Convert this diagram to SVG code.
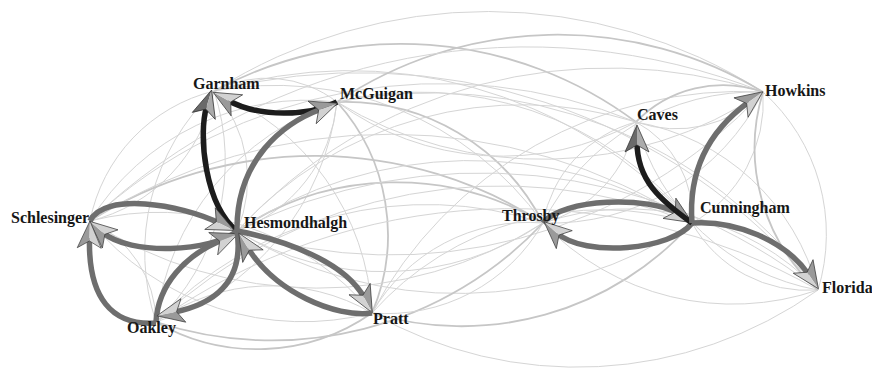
<svg xmlns="http://www.w3.org/2000/svg" width="872" height="369" viewBox="0 0 872 369">
<style>
.bg{fill:#ffffff}
.e{fill:none;stroke:#d5d5d5;stroke-width:1}
.e2{fill:none;stroke:#c6c6c6;stroke-width:1.8}
.k{fill:none;stroke:#6e6e6e;stroke-width:5.5}
.b{fill:none;stroke:#1c1c1c;stroke-width:5.5}
text{font-family:"Liberation Serif","Times New Roman",serif;font-weight:bold;font-size:16px;fill:#161616}
</style>
<defs>
<marker id="aL" markerUnits="userSpaceOnUse" markerWidth="40" markerHeight="40" viewBox="-10 -20 40 40" refX="3" refY="0" orient="auto" overflow="visible">
<path d="M20,0 L-7,-12 L0,0 Z" fill="#9a9a9a"/>
<path d="M20,0 L0,0 L-7,12 Z" fill="#d2d2d2"/>
<path d="M20,0 L-7,-12 L0,0 L-7,12 Z" fill="none" stroke="#3a3a3a" stroke-width="0.7" stroke-linejoin="round"/>
</marker>
<marker id="aD" markerUnits="userSpaceOnUse" markerWidth="40" markerHeight="40" viewBox="-10 -20 40 40" refX="3" refY="0" orient="auto" overflow="visible">
<path d="M20,0 L-7,-12 L0,0 Z" fill="#6a6a6a"/>
<path d="M20,0 L0,0 L-7,12 Z" fill="#ababab"/>
<path d="M20,0 L-7,-12 L0,0 L-7,12 Z" fill="none" stroke="#2a2a2a" stroke-width="0.7" stroke-linejoin="round"/>
</marker>
</defs>
<rect class="bg" x="0" y="0" width="872" height="369"/>
<g id="connectors-light">
<path class="e" d="M214,91 A115,115 0 0 1 337,102"/>
<path class="e" d="M90,221 A167,167 0 0 1 214,91"/>
<path class="e" d="M214,91 A167,167 0 0 1 90,221"/>
<path class="e" d="M214,91 A132,132 0 0 1 237,231"/>
<path class="e" d="M156,322 A222,222 0 0 1 214,91"/>
<path class="e" d="M214,91 A222,222 0 0 1 156,322"/>
<path class="e" d="M214,91 A253,253 0 0 1 372,313"/>
<path class="e" d="M90,221 A255,255 0 0 1 337,102"/>
<path class="e" d="M337,102 A152,152 0 0 1 237,231"/>
<path class="e" d="M156,322 A265,265 0 0 1 337,102"/>
<path class="e" d="M337,102 A265,265 0 0 1 156,322"/>
<path class="e2" d="M337,102 A199,199 0 0 1 372,313"/>
<path class="e" d="M90,221 A112,112 0 0 1 156,322"/>
<path class="e" d="M90,221 A276,276 0 0 1 372,313"/>
<path class="e" d="M372,313 A276,276 0 0 1 90,221"/>
<path class="e" d="M156,322 A201,201 0 0 1 372,313"/>
<path class="e2" d="M372,313 A201,201 0 0 1 156,322"/>
<path class="e" d="M214,91 A330,330 0 0 1 543,223"/>
<path class="e" d="M214,91 A461,461 0 0 1 692,223"/>
<path class="e" d="M214,91 A591,591 0 0 1 818,290"/>
<path class="e2" d="M214,91 A393,393 0 0 1 636,122"/>
<path class="e" d="M214,91 A511,511 0 0 1 763,92"/>
<path class="e2" d="M337,102 A222,222 0 0 1 543,223"/>
<path class="e" d="M337,102 A349,349 0 0 1 692,223"/>
<path class="e" d="M337,102 A480,480 0 0 1 818,290"/>
<path class="e2" d="M337,102 A396,396 0 0 1 763,92"/>
<path class="e" d="M636,122 A279,279 0 0 1 337,102"/>
<path class="e" d="M763,92 A396,396 0 0 1 337,102"/>
<path class="e2" d="M90,221 A421,421 0 0 1 543,223"/>
<path class="e" d="M543,223 A421,421 0 0 1 90,221"/>
<path class="e" d="M90,221 A560,560 0 0 1 692,223"/>
<path class="e" d="M90,221 A637,637 0 0 1 763,92"/>
<path class="e" d="M90,221 A516,516 0 0 1 636,122"/>
<path class="e2" d="M237,231 A285,285 0 0 1 543,223"/>
<path class="e" d="M543,223 A285,285 0 0 1 237,231"/>
<path class="e" d="M237,231 A423,423 0 0 1 692,223"/>
<path class="e" d="M692,223 A423,423 0 0 1 237,231"/>
<path class="e" d="M237,231 A506,506 0 0 1 763,92"/>
<path class="e" d="M763,92 A506,506 0 0 1 237,231"/>
<path class="e" d="M237,231 A385,385 0 0 1 636,122"/>
<path class="e" d="M237,231 A543,543 0 0 1 818,290"/>
<path class="e" d="M156,322 A372,372 0 0 1 543,223"/>
<path class="e2" d="M543,223 A372,372 0 0 1 156,322"/>
<path class="e" d="M156,322 A507,507 0 0 1 692,223"/>
<path class="e" d="M156,322 A616,616 0 0 1 818,290"/>
<path class="e" d="M372,313 A180,180 0 0 1 543,223"/>
<path class="e" d="M543,223 A180,180 0 0 1 372,313"/>
<path class="e" d="M372,313 A309,309 0 0 1 692,223"/>
<path class="e2" d="M692,223 A309,309 0 0 1 372,313"/>
<path class="e" d="M372,313 A418,418 0 0 1 763,92"/>
<path class="e" d="M818,290 A415,415 0 0 1 372,313"/>
<path class="e" d="M543,223 A128,128 0 0 1 636,122"/>
<path class="e" d="M636,122 A128,128 0 0 1 543,223"/>
<path class="e" d="M543,223 A238,238 0 0 1 763,92"/>
<path class="e" d="M763,92 A238,238 0 0 1 543,223"/>
<path class="e" d="M543,223 A263,263 0 0 1 818,290"/>
<path class="e" d="M818,290 A263,263 0 0 1 543,223"/>
<path class="e" d="M636,122 A107,107 0 0 1 692,223"/>
<path class="e" d="M763,92 A139,139 0 0 1 692,223"/>
<path class="e" d="M818,290 A133,133 0 0 1 692,223"/>
<path class="e2" d="M636,122 A121,121 0 0 1 763,92"/>
<path class="e" d="M763,92 A121,121 0 0 1 636,122"/>
<path class="e" d="M636,122 A230,230 0 0 1 818,290"/>
<path class="e" d="M818,290 A230,230 0 0 1 636,122"/>
<path class="e" d="M763,92 A191,191 0 0 1 818,290"/>
<path class="e2" d="M818,290 A191,191 0 0 1 763,92"/>
</g>
<g id="connectors-strong">
<path class="b" marker-end="url(#aL)" d="M337,102 C310,116 260,118 228.1,100.5"/>
<path class="b" marker-end="url(#aD)" d="M237,231 C205,205 198,135 206.7,106.3"/>
<path class="k" marker-end="url(#aL)" d="M237,231 C236,160 283,123 321.5,109"/>
<path class="k" marker-end="url(#aL)" d="M90,221 C104,192 180,204 219,223"/>
<path class="k" marker-end="url(#aL)" d="M237,231 C212,252 130,256 102.6,232.4"/>
<path class="k" marker-end="url(#aL)" d="M156,323 C112,326 88,298 89.5,238"/>
<path class="k" marker-end="url(#aL)" d="M156,322 C158,285 185,255 222.5,240"/>
<path class="k" marker-end="url(#aL)" d="M237,231 C245,285 210,305 173.6,312.4"/>
<path class="k" marker-end="url(#aL)" d="M237,231 C285,240 345,262 364.3,297.9"/>
<path class="k" marker-end="url(#aL)" d="M372,313 C335,318 275,292 247.7,247.6"/>
<path class="k" marker-end="url(#aL)" d="M543,223 C562,198 650,196 677.9,213.6"/>
<path class="k" marker-end="url(#aL)" d="M692,223 C672,250 585,258 556.8,233"/>
<path class="b" marker-end="url(#aD)" d="M692,223 C660,200 637,180 637,142"/>
<path class="k" marker-end="url(#aL)" d="M692,223 C688,170 710,130 749.1,101.7"/>
<path class="k" marker-end="url(#aL)" d="M692,223 C735,220 785,240 808.8,274.7"/>
</g>
<g id="n-Garnham"><text x="193" y="89">Garnham</text></g>
<g id="n-McGuigan"><text x="340" y="99">McGuigan</text></g>
<g id="n-Schlesinger"><text x="11" y="223">Schlesinger</text></g>
<g id="n-Hesmondhalgh"><text x="244" y="228">Hesmondhalgh</text></g>
<g id="n-Oakley"><text x="127" y="333">Oakley</text></g>
<g id="n-Pratt"><text x="373" y="324">Pratt</text></g>
<g id="n-Throsby"><text x="502" y="221">Throsby</text></g>
<g id="n-Cunningham"><text x="700" y="213">Cunningham</text></g>
<g id="n-Caves"><text x="637" y="120">Caves</text></g>
<g id="n-Howkins"><text x="765" y="96">Howkins</text></g>
<g id="n-Florida"><text x="822" y="293">Florida</text></g>
</svg>
